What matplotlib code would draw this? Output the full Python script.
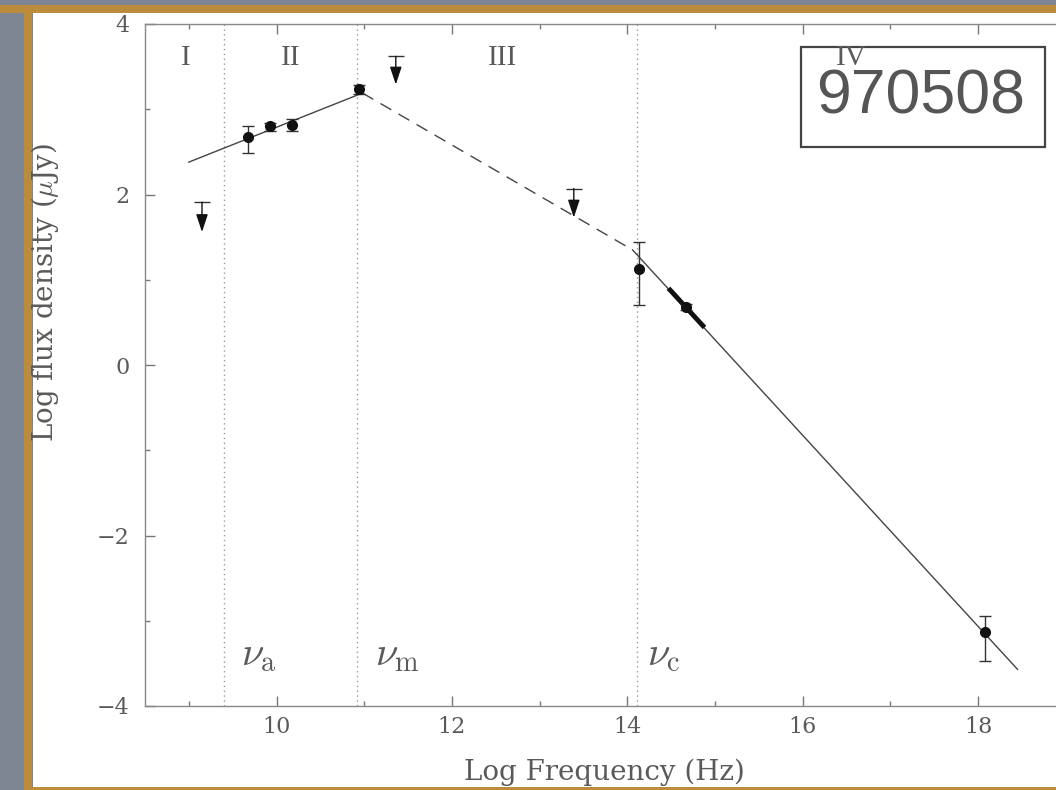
import matplotlib
matplotlib.use("Agg")
import matplotlib.pyplot as plt
from matplotlib.patches import Rectangle
from matplotlib.ticker import MultipleLocator

plt.rcParams["mathtext.fontset"] = "cm"

# detections: log frequency, log flux, error down / up
det_x = [9.68, 9.93, 10.18, 10.94, 14.13, 14.67, 18.08]
det_y = [2.67, 2.80, 2.82, 3.24, 1.13, 0.68, -3.13]
det_err_lo = [0.18, 0.05, 0.08, 0.06, 0.43, 0.03, 0.34]
det_err_hi = [0.13, 0.04, 0.07, 0.05, 0.31, 0.03, 0.19]

# upper limits: cap value and arrow tip
ul_x = [9.15, 11.36, 13.39]
ul_top = [1.91, 3.62, 2.07]
ul_tip = [1.56, 3.29, 1.73]

# broken power-law model
seg2_x = [9.00, 10.98]
seg2_y = [2.38, 3.19]
seg3_x = [10.98, 14.06]
seg3_y = [3.19, 1.35]
seg4_x = [14.06, 18.45]
seg4_y = [1.35, -3.57]

# optical spectral slope (thick piece)
opt_x = [14.47, 14.88]
opt_y = [0.90, 0.44]

# break frequencies
breaks = [9.40, 10.92, 14.11]
break_labels = [r"$\nu_{\rm a}$", r"$\nu_{\rm m}$", r"$\nu_{\rm c}$"]
break_label_x = [9.60, 11.12, 14.23]

regions = ["I", "II", "III", "IV"]
region_x = [8.96, 10.16, 12.58, 16.56]

W, H = 1056, 790
fig = plt.figure(figsize=(W / 100, H / 100), dpi=100)
fig.patch.set_facecolor("#7c8591")

gold = "#bb8c3c"
frame = [
    ((33 / W, 3 / H), 1, 1 - 16 / H, "white"),
    ((0, 1 - 13 / H), 1, 8 / H, gold),
    ((24 / W, 0), 8 / W, 1 - 5 / H, gold),
    ((24 / W, 0), 1, 3 / H, gold),
]
for xy, w, h, c in frame:
    fig.add_artist(Rectangle(xy, w, h, transform=fig.transFigure,
                             facecolor=c, edgecolor="none", zorder=-10))

ax = fig.add_axes([145 / W, 84 / H, 964.6 / W, 682 / H])
ax.set_zorder(5)
ax.set_facecolor("none")
ax.set_xlim(8.5, 19.5)
ax.set_ylim(-4, 4)

txt = "#5a5a5a"
for s in ax.spines.values():
    s.set_color("#888888")
    s.set_linewidth(1.0)

ax.xaxis.set_major_locator(MultipleLocator(2))
ax.xaxis.set_minor_locator(MultipleLocator(1))
ax.yaxis.set_major_locator(MultipleLocator(2))
ax.yaxis.set_minor_locator(MultipleLocator(1))
ax.tick_params(which="both", direction="in", top=True, right=True,
               color="#777777", width=1.0, labelcolor=txt)
ax.tick_params(which="major", length=7, labelsize=16)
ax.tick_params(axis="x", which="major", pad=7)
ax.tick_params(axis="y", which="major", pad=11)
ax.tick_params(which="minor", length=3.5)
for lab in ax.get_xticklabels() + ax.get_yticklabels():
    lab.set_family("DejaVu Serif")

# vertical break lines
for b in breaks:
    ax.axvline(b, color="#999999", lw=1.0, ls=(0, (1, 2.5)), zorder=1)
for lx, lab in zip(break_label_x, break_labels):
    ax.text(lx, -3.52, lab, fontsize=29, color=txt, va="baseline", ha="left")

# model
ax.plot(seg2_x, seg2_y, color="#444444", lw=1.0, zorder=2)
ax.plot(seg3_x, seg3_y, color="#444444", lw=1.0, ls=(0, (9, 6)), zorder=2)
ax.plot(seg4_x, seg4_y, color="#444444", lw=1.0, zorder=2)
ax.plot(opt_x, opt_y, color="#111111", lw=3.5, solid_capstyle="butt", zorder=3)

# detections
ax.errorbar(det_x, det_y, yerr=[det_err_lo, det_err_hi], fmt="o", color="#111111",
            ms=7, ecolor="#333333", elinewidth=1.0, capsize=4.5, capthick=1.0, zorder=4)

# upper limits
ax.plot(ul_x, ul_top, ls="none", marker="_", ms=11, mew=1.0, color="#333333", zorder=4)
for x, t, b in zip(ul_x, ul_top, ul_tip):
    ax.annotate("", xy=(x, b), xytext=(x, t),
                arrowprops=dict(arrowstyle="-|>,head_length=0.9,head_width=0.3",
                                mutation_scale=12, color="#111111", lw=1.0,
                                shrinkA=0, shrinkB=0), zorder=4)

# label box
ax.add_patch(Rectangle((15.98, 2.56), 2.78, 1.17, facecolor="white",
                       edgecolor="#444444", lw=1.6, zorder=5))
ax.text(17.35, 3.14, "970508", fontsize=45, family="Liberation Sans",
        color="#555555", ha="center", va="center", zorder=6)

for x, r in zip(region_x, regions):
    ax.text(x, 3.6, r, fontsize=21, family="Liberation Serif", color=txt,
            ha="center", va="center", zorder=7)

ax.set_xlabel("Log Frequency (Hz)", fontsize=20, family="DejaVu Serif", color=txt)
ax.set_ylabel(r"Log flux density ($\mu$Jy)", fontsize=20, family="DejaVu Serif", color=txt)
ax.xaxis.set_label_coords(0.476, -0.097)
ax.xaxis.label.set_va("center")
ax.yaxis.set_label_coords(-0.104, 0.607)
ax.yaxis.label.set_va("center")

fig.savefig("out.png", dpi=100, facecolor=fig.get_facecolor())
